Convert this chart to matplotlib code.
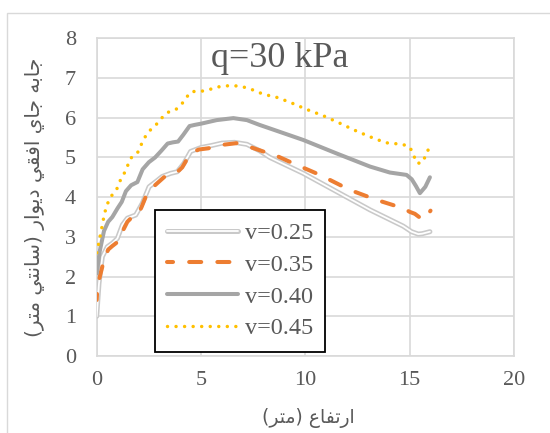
import matplotlib
matplotlib.use('Agg')
import matplotlib.pyplot as plt
import matplotlib.patheffects as pe
from matplotlib.patches import Rectangle

# ---------------- data ----------------
x_025 = [0, 0.11, 0.27, 0.51, 0.75, 0.99, 1.23, 1.47, 1.87, 2.19, 2.51, 2.83, 3.14, 3.55, 3.86,
         4.18, 4.5, 5.0, 5.5, 6.0, 6.6, 7.2, 7.8, 8.3, 9.9, 11.5, 13.1, 14.69, 15.09, 15.41, 15.6, 15.97]
y_025 = [1.0, 1.83, 2.5, 2.75, 2.84, 2.96, 3.3, 3.47, 3.55, 3.85, 4.26, 4.39, 4.52, 4.6, 4.64,
         4.85, 5.15, 5.25, 5.3, 5.36, 5.38, 5.33, 5.17, 5.0, 4.6, 4.14, 3.68, 3.27, 3.13, 3.07, 3.08, 3.13]

x_035 = [0, 0.03, 0.15, 0.35, 0.55, 0.75, 1.07, 1.25, 1.47, 1.7, 1.95, 2.15, 2.42, 2.63, 2.9,
         3.22, 3.55, 3.9, 4.1, 4.31, 4.55, 4.9, 5.35, 5.91, 6.71, 7.19, 7.98, 8.54, 9.42, 10.7,
         12.14, 13.42, 14.69, 15.0, 15.25, 15.5, 15.65, 15.82, 16.0]
y_035 = [1.41, 1.7, 2.0, 2.42, 2.68, 2.77, 2.9, 3.15, 3.38, 3.5, 3.53, 3.75, 4.1, 4.22, 4.35,
         4.5, 4.6, 4.65, 4.75, 4.94, 5.12, 5.2, 5.23, 5.31, 5.36, 5.29, 5.15, 5.06, 4.85, 4.56,
         4.18, 3.93, 3.72, 3.63, 3.58, 3.48, 3.43, 3.52, 3.66]

x_040 = [0, 0.15, 0.35, 0.55, 0.75, 1.0, 1.2, 1.4, 1.65, 1.95, 2.2, 2.5, 2.8, 3.1, 3.4, 3.65,
         3.9, 4.15, 4.45, 4.7, 5.0, 5.75, 6.55, 7.2, 7.8, 8.3, 9.9, 11.5, 13.1, 14.05, 14.85,
         15.1, 15.3, 15.49, 15.75, 15.97]
y_040 = [2.08, 2.65, 3.15, 3.38, 3.5, 3.72, 3.88, 4.15, 4.3, 4.38, 4.7, 4.88, 5.0, 5.17, 5.35, 5.38,
         5.4, 5.57, 5.79, 5.82, 5.85, 5.94, 5.99, 5.94, 5.82, 5.73, 5.44, 5.1, 4.77, 4.62, 4.56,
         4.45, 4.28, 4.1, 4.26, 4.5]

x_045 = [0, 0.08, 0.16, 0.24, 0.32, 0.4, 0.48, 0.72, 0.96, 1.12, 1.36, 1.63, 1.96, 2.27, 2.55,
         2.84, 3.11, 3.38, 3.78, 4.07, 4.31, 4.55, 4.95, 5.35, 5.75, 6.15, 6.55, 6.98, 7.35, 7.74,
         8.15, 8.54, 9.26, 10.06, 10.86, 11.58, 12.34, 13.1, 13.85, 14.66, 15.01, 15.2, 15.36,
         15.6, 15.78, 15.95]
y_045 = [2.6, 2.8, 3.0, 3.22, 3.44, 3.63, 3.8, 4.04, 4.2, 4.41, 4.64, 4.98, 5.12, 5.48, 5.68,
         5.82, 5.99, 6.13, 6.2, 6.34, 6.52, 6.66, 6.66, 6.7, 6.77, 6.8, 6.81, 6.78, 6.73, 6.64,
         6.57, 6.53, 6.39, 6.21, 6.05, 5.88, 5.69, 5.52, 5.37, 5.33, 5.26, 5.04, 4.85,
         4.87, 5.06, 5.27]

labels = ['v=0.25', 'v=0.35', 'v=0.40', 'v=0.45']
title_text = 'q=30 kPa'
xlabel_text = 'ارتفاع (متر)'
ylabel_text = 'جابه جاي افقي ديوار (سانتي متر)'
xticks = [0, 5, 10, 15, 20]
yticks = [0, 1, 2, 3, 4, 5, 6, 7, 8]

# ------------- simple Arabic shaping (presentation forms + visual order) -------------
FORMS = {
    'ا': ('\uFE8D', '\uFE8E', None, None),
    'ب': ('\uFE8F', '\uFE90', '\uFE91', '\uFE92'),
    'ت': ('\uFE95', '\uFE96', '\uFE97', '\uFE98'),
    'ج': ('\uFE9D', '\uFE9E', '\uFE9F', '\uFEA0'),
    'د': ('\uFEA9', '\uFEAA', None, None),
    'ر': ('\uFEAD', '\uFEAE', None, None),
    'س': ('\uFEB1', '\uFEB2', '\uFEB3', '\uFEB4'),
    'ع': ('\uFEC9', '\uFECA', '\uFECB', '\uFECC'),
    'ف': ('\uFED1', '\uFED2', '\uFED3', '\uFED4'),
    'ق': ('\uFED5', '\uFED6', '\uFED7', '\uFED8'),
    'م': ('\uFEE1', '\uFEE2', '\uFEE3', '\uFEE4'),
    'ن': ('\uFEE5', '\uFEE6', '\uFEE7', '\uFEE8'),
    'ه': ('\uFEE9', '\uFEEA', '\uFEEB', '\uFEEC'),
    'و': ('\uFEED', '\uFEEE', None, None),
    'ي': ('\uFEF1', '\uFEF2', '\uFEF3', '\uFEF4'),
}


def shape(text):
    out = []
    n = len(text)
    for i, c in enumerate(text):
        if c not in FORMS:
            out.append(c)
            continue
        prev = text[i - 1] if i > 0 else None
        nxt = text[i + 1] if i + 1 < n else None
        jp = prev in FORMS and FORMS[prev][2] is not None
        jn = FORMS[c][2] is not None and nxt in FORMS
        iso, fin, ini, med = FORMS[c]
        if jp and jn:
            out.append(med)
        elif jp:
            out.append(fin)
        elif jn:
            out.append(ini)
        else:
            out.append(iso)
    vis = ''.join(reversed(out))
    return vis.translate(str.maketrans({'(': ')', ')': '('}))


# ---------------- figure ----------------
W, H = 550, 433
fig = plt.figure(figsize=(W / 100, H / 100), dpi=100)
ax = fig.add_axes([96.7 / W, 1 - 356 / H, (514 - 96.7) / W, (356 - 38.3) / H])

text_col = '#595959'
grid_col = '#d9d9d9'
serif = ['Liberation Serif', 'DejaVu Serif']
arab = ['DejaVu Sans']

l1, = ax.plot(x_025, y_025, color='white', lw=1.3, solid_capstyle='round', label=labels[0],
              path_effects=[pe.Stroke(linewidth=3.6, foreground='#c9c9c9'), pe.Normal()], zorder=3)
l2, = ax.plot(x_035, y_035, color='#ED7D31', lw=2.9, linestyle=(1.5, (3, 4)), dash_capstyle='round',
              label=labels[1], zorder=4)
l3, = ax.plot(x_040, y_040, color='#A5A5A5', lw=2.9, solid_capstyle='round', label=labels[2], zorder=4)
l4, = ax.plot(x_045, y_045, color='#FFC000', lw=2.5, dashes=(0.01, 2.45), dash_capstyle='round',
              label=labels[3], zorder=4)

ax.set_xlim(0, 20)
ax.set_ylim(0, 8)
ax.set_xticks(xticks)
ax.set_yticks(yticks)
ax.grid(True, color=grid_col, lw=1.2, zorder=0)
ax.set_axisbelow(True)
for s in ax.spines.values():
    s.set_color(grid_col)
    s.set_linewidth(1.2)
ax.tick_params(axis='both', length=0, labelsize=16, labelcolor=text_col)
ax.tick_params(axis='y', pad=15)
ax.tick_params(axis='x', pad=11)
for t in ax.get_xticklabels() + ax.get_yticklabels():
    t.set_family(serif)

fig.text(280 / W, 1 - 67 / H, title_text, ha='center', va='baseline', fontsize=26,
         family=serif, color=text_col)

fig.text(308 / W, 1 - 418 / H, shape(xlabel_text), ha='center', va='center', fontsize=13.5,
         family=arab, color=text_col)
fig.text(35 / W, 1 - 197 / H, shape(ylabel_text), ha='center', va='center', rotation=90,
         fontsize=14.5, family=arab, color=text_col)

leg = ax.legend(handles=[l1, l2, l3, l4], loc='upper left',
                bbox_to_anchor=(155 / W, 1 - 210 / H), bbox_transform=fig.transFigure,
                borderaxespad=0, fancybox=False, framealpha=1, edgecolor='black',
                prop={'family': serif, 'size': 17.5}, handlelength=2.9, handletextpad=0.3,
                labelspacing=0.4, borderpad=0.5, labelcolor=text_col)
leg.get_frame().set_linewidth(1.3)

fig.patches.append(Rectangle((7 / W, -0.05), 1.0, 1 - 13 / H + 0.05, transform=fig.transFigure,
                             fill=False, edgecolor=grid_col, lw=1.0))

fig.savefig('out.png', dpi=100)
